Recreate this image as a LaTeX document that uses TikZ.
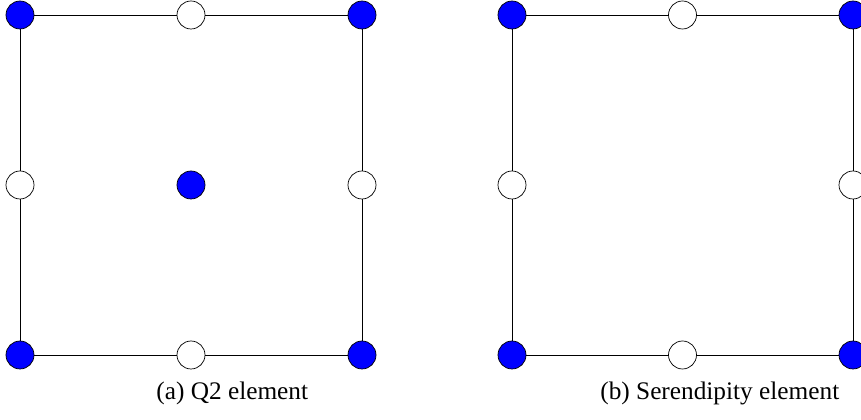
\documentclass[tikz,border=0pt]{standalone}
\usepackage{fontspec}
\setmainfont{Liberation Serif}
\begin{document}
\begin{tikzpicture}[
    vertex/.style={circle, draw, minimum size=5.6mm, inner sep=0pt},
    dof/.style={vertex, fill=blue},
    free/.style={vertex, fill=white},
    edge/.style={-},
    caption/.style={anchor=base west, inner sep=0pt, font=\fontsize{14.4}{17}\selectfont}
]
    \useasboundingbox (0,0) rectangle (17.22,8.4);

    % Elemento 1: Q2, nove nos
    \node[dof]  (a1) at (0.4,8.1) {};
    \node[free] (b1) at (3.82,8.1) {};
    \node[dof]  (c1) at (7.24,8.1) {};
    \node[free] (d1) at (0.4,4.7) {};
    \node[dof]  (e1) at (3.82,4.7) {};
    \node[free] (f1) at (7.24,4.7) {};
    \node[dof]  (g1) at (0.4,1.3) {};
    \node[free] (h1) at (3.82,1.3) {};
    \node[dof]  (i1) at (7.24,1.3) {};

    % Arestas do elemento 1
    \draw[edge] (a1) -- (b1);
    \draw[edge] (b1) -- (c1);
    \draw[edge] (c1) -- (f1);
    \draw[edge] (f1) -- (i1);
    \draw[edge] (i1) -- (h1);
    \draw[edge] (h1) -- (g1);
    \draw[edge] (g1) -- (d1);
    \draw[edge] (d1) -- (a1);

    % Elemento 2: serendipity, oito nos
    \node[dof]  (a2) at (10.24,8.1) {};
    \node[free] (b2) at (13.65,8.1) {};
    \node[dof]  (c2) at (17.06,8.1) {};
    \node[free] (d2) at (10.24,4.7) {};
    \node[free] (f2) at (17.06,4.7) {};
    \node[dof]  (g2) at (10.24,1.3) {};
    \node[free] (h2) at (13.65,1.3) {};
    \node[dof]  (i2) at (17.06,1.3) {};

    % Arestas do elemento 2
    \draw[edge] (a2) -- (b2);
    \draw[edge] (b2) -- (c2);
    \draw[edge] (c2) -- (f2);
    \draw[edge] (f2) -- (i2);
    \draw[edge] (i2) -- (h2);
    \draw[edge] (h2) -- (g2);
    \draw[edge] (g2) -- (d2);
    \draw[edge] (d2) -- (a2);

    % Legendas
    \node[caption] (capa) at (3.12,0.40) {(a) Q2 element};
    \node[caption] (capb) at (12.0,0.40) {(b) Serendipity element};

\end{tikzpicture}
\end{document}
